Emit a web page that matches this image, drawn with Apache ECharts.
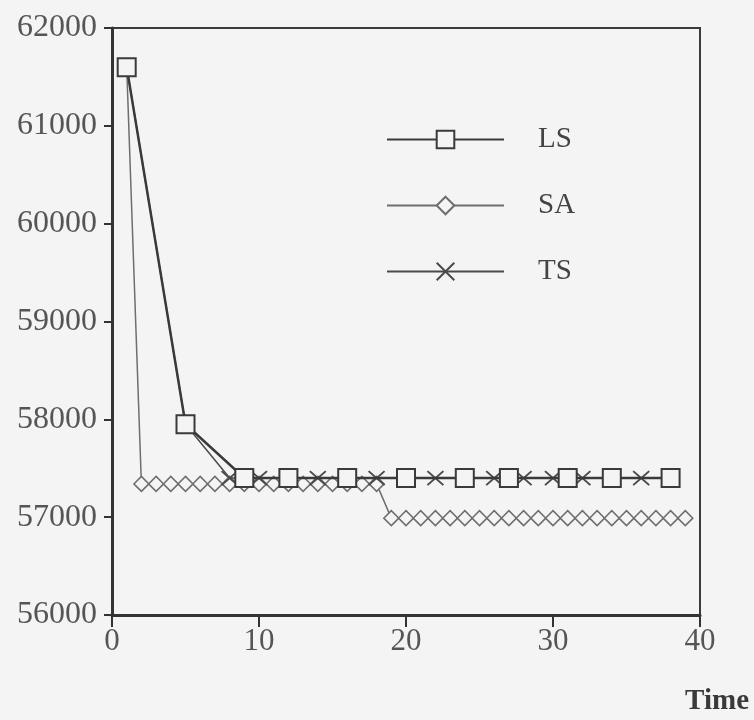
<!doctype html>
<html>
<head>
<meta charset="utf-8">
<title>LS SA TS</title>
<style>
	html,body{height:100%;padding:0;margin:0;background:#f4f4f4;}
</style>
</head>
<body>
<div id="chart" style="width:754px;height:720px;"></div>
<script src="https://cdn.jsdelivr.net/npm/echarts@6/dist/echarts.min.js"></script>
<script>
// data
var lsX = [1, 5, 9, 12, 16, 20, 24, 27, 31, 34, 38];
var lsY = [61600, 57950, 57400, 57400, 57400, 57400, 57400, 57400, 57400, 57400, 57400];

var saX = [1, 2, 3, 4, 5, 6, 7, 8, 9, 10, 11, 12, 13, 14, 15, 16, 17, 18,
	19, 20, 21, 22, 23, 24, 25, 26, 27, 28, 29, 30, 31, 32, 33, 34, 35, 36, 37, 38, 39];
var saY = [61600, 57340, 57340, 57340, 57340, 57340, 57340, 57340, 57340, 57340, 57340, 57340, 57340, 57340, 57340, 57340, 57340, 57340,
	56990, 56990, 56990, 56990, 56990, 56990, 56990, 56990, 56990, 56990, 56990, 56990, 56990, 56990, 56990, 56990, 56990, 56990, 56990, 56990, 56990];

var tsX = [1, 5, 8, 10, 12, 14, 16, 18, 20, 22, 24, 26, 28, 30, 32, 34, 36, 38];
var tsY = [61600, 57950, 57400, 57400, 57400, 57400, 57400, 57400, 57400, 57400, 57400, 57400, 57400, 57400, 57400, 57400, 57400, 57400];

var seriesNames = ['LS', 'SA', 'TS'];

function pairs(xs, ys){
	var out = [];
	for(var i = 0; i < xs.length; i++){ out.push([xs[i], ys[i]]); }
	return out;
}

var bg = '#f4f4f4';
var font = "'Liberation Serif', 'Times New Roman', serif";
var crossPath = 'path://M0,0L16,14M16,0L0,14';

var myChart = echarts.init(document.getElementById('chart'));
var option = {
	backgroundColor: bg,
	animation: false,
	title: {
		text: 'Time',
		right: 0,
		top: 682,
		textStyle: {fontFamily: font, fontSize: 29, fontWeight: 'bold', color: '#3a3a3a'}
	},
	legend: {
		orient: 'vertical',
		left: 386,
		top: 125,
		padding: 0,
		itemWidth: 117,
		itemHeight: 22,
		itemGap: 37,
		data: seriesNames,
		textStyle: {fontFamily: font, fontSize: 29, color: '#444', padding: [0, 0, 0, 29]}
	},
	grid: {
		left: 112, right: 54, top: 28, bottom: 105,
		show: true,
		borderColor: '#3a3a3a',
		borderWidth: 2,
		backgroundColor: 'transparent'
	},
	xAxis: {
		type: 'value',
		min: 0, max: 40, interval: 10,
		axisLine: {lineStyle: {color: '#333', width: 3}},
		axisTick: {length: 12, lineStyle: {color: '#333', width: 2}},
		axisLabel: {fontFamily: font, fontSize: 31, color: '#555', margin: 11},
		splitLine: {show: false}
	},
	yAxis: {
		type: 'value',
		min: 56000, max: 62000, interval: 1000,
		axisLine: {show: true, lineStyle: {color: '#333', width: 3}},
		axisTick: {show: true, length: 8, lineStyle: {color: '#333', width: 2}},
		axisLabel: {fontFamily: font, fontSize: 32, color: '#555', margin: 15,
			formatter: function(v){ return String(v); }},
		splitLine: {show: false}
	},
	series: [
		{
			name: 'SA',
			type: 'line',
			data: pairs(saX, saY),
			symbol: 'diamond',
			symbolSize: [15, 15],
			lineStyle: {color: '#6e6e6e', width: 1.5},
			itemStyle: {color: bg, borderColor: '#6e6e6e', borderWidth: 1.5},
			z: 2
		},
		{
			name: 'TS',
			type: 'line',
			data: pairs(tsX, tsY),
			symbol: crossPath,
			symbolSize: [16, 14],
			lineStyle: {color: '#4a4a4a', width: 1.5},
			itemStyle: {color: 'none', borderColor: '#4a4a4a', borderWidth: 1.8},
			z: 3
		},
		{
			name: 'LS',
			type: 'line',
			data: pairs(lsX, lsY),
			symbol: 'rect',
			symbolSize: [18, 18],
			lineStyle: {color: '#3a3a3a', width: 2.5},
			itemStyle: {color: bg, borderColor: '#3a3a3a', borderWidth: 2},
			z: 4
		}
	]
};
myChart.setOption(option);
</script>
</body>
</html>
